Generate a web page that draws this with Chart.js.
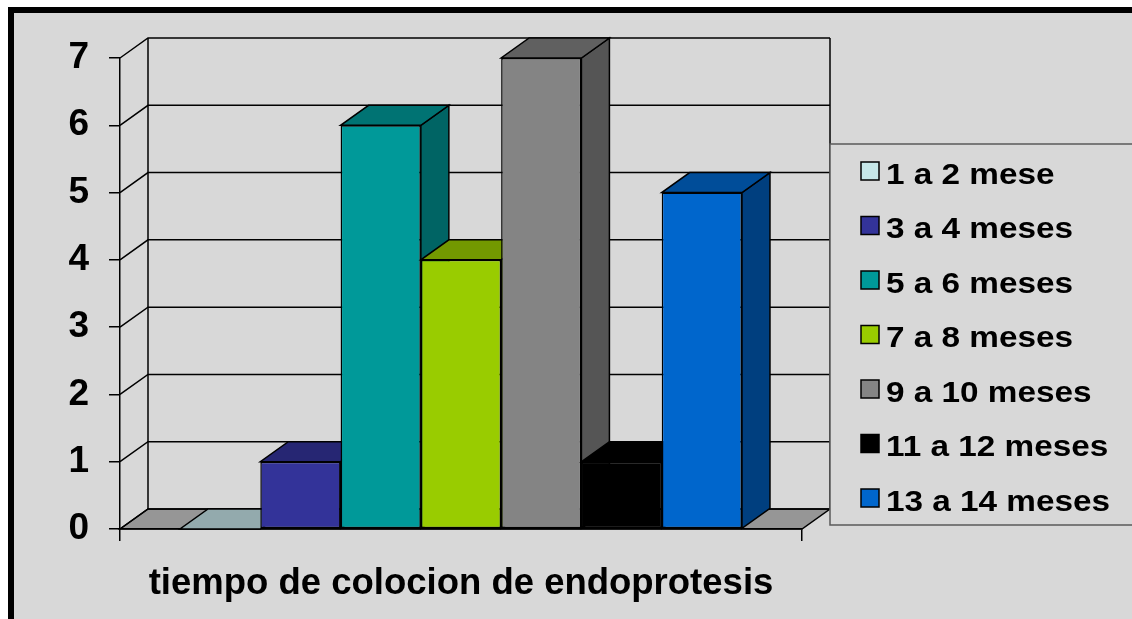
<!DOCTYPE html>
<html lang="es">
<head>
<meta charset="utf-8">
<title>Tiempo de colocion de endoprotesis</title>
<script src="https://cdn.jsdelivr.net/npm/chart.js@4.4.1/dist/chart.umd.min.js"></script>
<style>
  html, body { margin: 0; padding: 0; background: #fff; }
  body { width: 1132px; height: 619px; overflow: hidden; position: relative; }
  /* marco negro del grafico, se corta por la derecha y por abajo */
  #marco {
    position: absolute; left: 8px; top: 7px; width: 1200px; height: 700px;
    box-sizing: border-box; border-left: 6px solid #000; border-top: 6px solid #000;
    background: #d8d8d8;
  }
  #contenedor { position: absolute; left: 0; top: 0; width: 1132px; height: 619px; }
</style>
</head>
<body>
<div id="marco"></div>
<div id="contenedor"><canvas id="grafico"></canvas></div>
<script>
// Datos
const categorias = ['tiempo de colocion de endoprotesis'];
const series = ['1 a 2 mese', '3 a 4 meses', '5 a 6 meses', '7 a 8 meses', '9 a 10 meses', '11 a 12 meses', '13 a 14 meses'];
const valores = [0, 1, 6, 4, 7, 1, 5];
const ticksY = [0, 1, 2, 3, 4, 5, 6, 7];

// Colores: frente, tapa y lado de cada barra
const coloresFrente = ['#c6e7e8', '#333399', '#009999', '#99cc00', '#848484', '#000000', '#0066cc'];
const coloresTapa   = ['#93aaad', '#262673', '#007373', '#739900', '#606060', '#000000', '#004d99'];
const coloresLado   = ['#93aaad', '#20205f', '#006464', '#5f7f00', '#555555', '#000000', '#003f7f'];

// profundidad del efecto 3D
const PROF_X = 28;
const PROF_Y = -20;

function poligono(ctx, puntos, relleno) {
  ctx.beginPath();
  puntos.forEach(([x, y], i) => (i ? ctx.lineTo(x, y) : ctx.moveTo(x, y)));
  ctx.closePath();
  ctx.fillStyle = relleno;
  ctx.fill();
  ctx.stroke();
}

// Piso, pared del fondo y pared izquierda
const paredes = {
  id: 'paredes',
  beforeDraw(chart) {
    const { ctx, chartArea: { left, right, top, bottom }, scales: { y } } = chart;
    ctx.save();
    ctx.lineWidth = 1.5;
    ctx.strokeStyle = '#000';
    poligono(ctx, [[left, bottom], [right, bottom], [right + PROF_X, bottom + PROF_Y], [left + PROF_X, bottom + PROF_Y]], '#969696');
    y.ticks.forEach(t => {
      const py = y.getPixelForValue(t.value);
      ctx.beginPath();
      ctx.moveTo(left, py);
      ctx.lineTo(left + PROF_X, py + PROF_Y);
      ctx.lineTo(right + PROF_X, py + PROF_Y);
      ctx.stroke();
    });
    ctx.beginPath();
    ctx.moveTo(left + PROF_X, top + PROF_Y);
    ctx.lineTo(left + PROF_X, bottom + PROF_Y);
    ctx.moveTo(right + PROF_X, top + PROF_Y);
    ctx.lineTo(right + PROF_X, bottom + PROF_Y);
    ctx.stroke();
    ctx.restore();
  }
};

// Barras en 3D: se dibujan de izquierda a derecha (frente, lado, tapa)
const barras3d = {
  id: 'barras3d',
  beforeDatasetDraw() {
    return false;
  },
  afterDatasetsDraw(chart) {
    const ctx = chart.ctx;
    chart.data.datasets.forEach((ds, i) => {
      const meta = chart.getDatasetMeta(i);
      meta.data.forEach(bar => {
        bar.draw(ctx);
        const { x, y, base, width } = bar.getProps(['x', 'y', 'base', 'width'], true);
        const l = x - width / 2;
        const r = x + width / 2;
        ctx.save();
        ctx.lineWidth = 1.5;
        ctx.strokeStyle = '#000';
        if (base - y > 0.5) {
          poligono(ctx, [[r, y], [r + PROF_X, y + PROF_Y], [r + PROF_X, base + PROF_Y], [r, base]], coloresLado[i]);
        }
        poligono(ctx, [[l, y], [r, y], [r + PROF_X, y + PROF_Y], [l + PROF_X, y + PROF_Y]], coloresTapa[i]);
        ctx.restore();
      });
    });
  }
};

// Leyenda con recuadro a la derecha
const leyenda = {
  id: 'leyenda',
  afterDraw(chart, args, o) {
    const ctx = chart.ctx;
    ctx.save();
    ctx.fillStyle = '#d8d8d8';
    ctx.fillRect(o.x, o.y, o.ancho, o.alto);
    ctx.strokeStyle = '#5a5a5a';
    ctx.lineWidth = 1.5;
    ctx.strokeRect(o.x, o.y, o.ancho, o.alto);
    ctx.font = 'bold 30px Arial';
    ctx.textBaseline = 'alphabetic';
    chart.data.datasets.forEach((ds, i) => {
      const fila = o.y + o.primera + i * o.paso;
      ctx.fillStyle = ds.backgroundColor;
      ctx.fillRect(o.x + 31, fila, 18, 18);
      ctx.strokeStyle = '#000';
      ctx.strokeRect(o.x + 31, fila, 18, 18);
      ctx.save();
      ctx.translate(o.x + 56, fila + 21.5);
      ctx.scale(o.estirar, 1);
      ctx.fillStyle = '#000';
      ctx.fillText(ds.label, 0, 0);
      ctx.restore();
    });
    ctx.restore();
  }
};

const datasets = series.map((nombre, i) => ({
  label: nombre,
  data: [valores[i]],
  backgroundColor: coloresFrente[i],
  borderColor: '#000',
  borderWidth: 1.5,
  borderSkipped: false,
  categoryPercentage: 0.824,
  barPercentage: 1
}));

new Chart(document.getElementById('grafico'), {
  type: 'bar',
  data: { labels: categorias, datasets },
  options: {
    responsive: true,
    maintainAspectRatio: false,
    animation: false,
    events: [],
    layout: { padding: { top: 58, right: 330, bottom: 0, left: 0 } },
    scales: {
      x: {
        afterFit: s => { s.height = 90; },
        grid: { display: true, drawOnChartArea: false, drawTicks: true, tickLength: 12, color: '#000', lineWidth: 1.5, offset: true },
        border: { display: true, color: '#000', width: 1.5 },
        ticks: { color: '#000', padding: 21, maxRotation: 0, font: { family: 'Arial', size: 36.5, weight: 'bold' } }
      },
      y: {
        min: ticksY[0],
        max: ticksY[ticksY.length - 1],
        afterFit: s => { s.width = 120; },
        grid: { display: true, drawOnChartArea: false, drawTicks: true, tickLength: 11, color: '#000', lineWidth: 1.5 },
        border: { display: true, color: '#000', width: 1.5 },
        ticks: { stepSize: 1, color: '#000', padding: 20, font: { family: 'Arial', size: 37, weight: 'bold' } }
      }
    },
    plugins: {
      legend: { display: false },
      tooltip: { enabled: false },
      leyenda: { x: 830, y: 144, ancho: 400, alto: 381, primera: 18, paso: 54.5, estirar: 1.11 }
    }
  },
  plugins: [paredes, barras3d, leyenda]
});
</script>
</body>
</html>
